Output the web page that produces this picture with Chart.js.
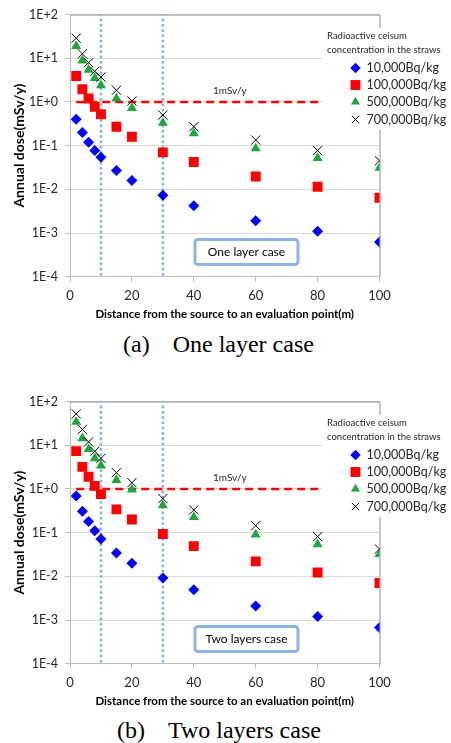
<!DOCTYPE html>
<html lang="en">
<head>
<meta charset="UTF-8">
<title>Annual dose vs distance</title>
<script src="https://cdn.jsdelivr.net/npm/chart.js"></script>
<style>
  body { margin: 0; background: #fff; width: 451px; height: 743px; position: relative; overflow: hidden; }
  .panel { position: absolute; left: 0; width: 451px; height: 330px; }
  canvas { display: block; }
  .caption { position: absolute; font-family: 'Liberation Serif', 'Times New Roman', serif; font-size: 24px; color: #000; white-space: nowrap; line-height: 1; }
  .caption .tag { margin-right: 23px; }
</style>
</head>
<body>
<div class="panel" style="top:0"><canvas id="chartA" width="451" height="330"></canvas></div>
<div class="caption" style="left:123px; top:332px"><span class="tag">(a)</span>One layer case</div>
<div class="panel" style="top:387px"><canvas id="chartB" width="451" height="330"></canvas></div>
<div class="caption" style="left:117px; top:718px"><span class="tag">(b)</span>Two layers case</div>

<script>
  // distances of evaluation points (m)
  const distances = [2, 4, 6, 8, 10, 15, 20, 30, 40, 60, 80, 100];
  const seriesLabels = ['10,000Bq/kg', '100,000Bq/kg', '500,000Bq/kg', '700,000Bq/kg'];

  // one layer case, annual dose (mSv/y)
  const oneLayer10k  = [0.40, 0.20, 0.12, 0.077, 0.054, 0.027, 0.016, 0.0073, 0.0042, 0.0019, 0.0011, 0.00062];
  const oneLayer100k = [3.9, 1.95, 1.2, 0.77, 0.52, 0.27, 0.16, 0.070, 0.042, 0.0196, 0.0114, 0.0064];
  const oneLayer500k = [19, 8.8, 5.4, 3.5, 2.4, 1.2, 0.72, 0.33, 0.19, 0.086, 0.052, 0.031];
  const oneLayer700k = [28.7, 12.6, 7.9, 5.0, 3.7, 1.85, 1.05, 0.50, 0.27, 0.134, 0.077, 0.045];

  // two layers case
  const twoLayer10k  = [0.69, 0.31, 0.18, 0.11, 0.071, 0.034, 0.020, 0.0091, 0.0049, 0.0021, 0.0012, 0.00067];
  const twoLayer100k = [7.3, 3.2, 1.9, 1.17, 0.76, 0.34, 0.20, 0.093, 0.049, 0.022, 0.0122, 0.0070];
  const twoLayer500k = [34, 14.3, 8.1, 5.0, 3.4, 1.6, 0.97, 0.42, 0.225, 0.09, 0.054, 0.032];
  const twoLayer700k = [52, 22.9, 11.9, 7.3, 5.0, 2.35, 1.39, 0.60, 0.33, 0.144, 0.081, 0.042];

  const yTicks = [1e-4, 1e-3, 1e-2, 1e-1, 1, 10, 100];
  const xTicks = [0, 20, 40, 60, 80, 100];
  const guideDistances = [10, 30];
  const limitDose = 1;
  const limitLabel = '1mSv/y';
  const legendTitle = ['Radioactive ceisum', 'concentration in the straws'];

  const markers = [
    { style: 'rectRot', color: '#0000ff', radius: 5.5 },
    { style: 'rect', color: '#ff0000', radius: 7 },
    { style: 'triangle', color: '#1ea83c', radius: 5.8 },
    { style: 'crossRot', color: '#000000', radius: 6.5 }
  ];

  const FONT = "Lato, 'Open Sans', sans-serif";
  Chart.defaults.font.family = FONT;
  Chart.defaults.color = '#262626';

  function sciLabel(v) {
    const e = Math.round(Math.log10(v));
    return '1E' + (e < 0 ? '-' : '+') + Math.abs(e);
  }

  function drawMarker(ctx, m, x, y, r) {
    ctx.save();
    ctx.fillStyle = m.color;
    ctx.strokeStyle = m.color;
    ctx.lineWidth = 1;
    ctx.beginPath();
    if (m.style === 'rectRot') {
      ctx.moveTo(x, y - r); ctx.lineTo(x + r, y); ctx.lineTo(x, y + r); ctx.lineTo(x - r, y);
      ctx.closePath(); ctx.fill();
    } else if (m.style === 'rect') {
      const s = r * Math.SQRT1_2;
      ctx.rect(x - s, y - s, 2 * s, 2 * s); ctx.fill();
    } else if (m.style === 'triangle') {
      ctx.moveTo(x, y - r); ctx.lineTo(x + r * 0.866, y + r / 2); ctx.lineTo(x - r * 0.866, y + r / 2);
      ctx.closePath(); ctx.fill();
    } else {
      const s = r * Math.SQRT1_2;
      ctx.moveTo(x - s, y - s); ctx.lineTo(x + s, y + s);
      ctx.moveTo(x + s, y - s); ctx.lineTo(x - s, y + s);
      ctx.stroke();
    }
    ctx.restore();
  }

  function makeChart(id, values, caseText) {
    const datasets = values.map((arr, i) => ({
      label: seriesLabels[i],
      data: distances.map((d, j) => ({ x: d, y: arr[j] })),
      pointStyle: markers[i].style,
      pointRadius: markers[i].radius,
      pointBackgroundColor: markers[i].color,
      pointBorderColor: markers[i].color,
      pointBorderWidth: i === 3 ? 1 : 0,
      showLine: false,
      order: 4 - i
    }));

    guideDistances.forEach(d => datasets.push({
      label: 'guide',
      data: [{ x: d, y: yTicks[yTicks.length - 1] }, { x: d, y: yTicks[0] }],
      showLine: true,
      borderColor: '#8db4e2',
      borderWidth: 3,
      borderDash: [0.1, 5.2],
      borderCapStyle: 'round',
      pointRadius: 0,
      order: 10
    }));

    datasets.push({
      label: 'limit',
      data: [{ x: distances[0], y: limitDose }, { x: xTicks[xTicks.length - 1], y: limitDose }],
      showLine: true,
      borderColor: '#ff0000',
      borderWidth: 2.5,
      borderDash: [8, 5],
      pointRadius: 0,
      order: 9
    });

    const decor = {
      id: 'decor',
      beforeDatasetsDraw(chart) {
        const { ctx, chartArea: a } = chart;
        ctx.save();
        ctx.strokeStyle = '#8c8c8c';
        ctx.lineWidth = 1;
        ctx.beginPath();
        ctx.moveTo(a.left, a.top + 0.5);
        ctx.lineTo(a.right + 0.5, a.top + 0.5);
        ctx.lineTo(a.right + 0.5, a.bottom);
        ctx.stroke();
        ctx.restore();
      },
      afterDraw(chart) {
        const { ctx } = chart;
        const ys = chart.scales.y;
        ctx.save();

        // 1mSv/y label
        ctx.font = '10px ' + FONT;
        ctx.fillStyle = '#262626';
        ctx.textBaseline = 'middle';
        ctx.textAlign = 'left';
        ctx.fillText(limitLabel, 213, ys.getPixelForValue(limitDose) - 11);

        // case box
        ctx.fillStyle = '#fff';
        ctx.strokeStyle = '#8db3e2';
        ctx.lineWidth = 3;
        ctx.beginPath();
        ctx.roundRect(195, 239.5, 103, 25, 3);
        ctx.fill();
        ctx.stroke();
        ctx.fillStyle = '#000';
        ctx.font = '12px ' + FONT;
        ctx.textAlign = 'center';
        ctx.fillText(caseText, 246.5, 252);

        // legend
        ctx.fillStyle = '#fff';
        ctx.fillRect(322, 28, 129, 102);
        ctx.fillStyle = '#262626';
        ctx.textAlign = 'left';
        ctx.font = '9.5px ' + FONT;
        ctx.fillText(legendTitle[0], 327, 35.5);
        ctx.fillText(legendTitle[1], 327, 49.5);
        ctx.font = '12.5px ' + FONT;
        const rowY = [68, 85, 102, 119.5];
        markers.forEach((m, i) => {
          drawMarker(ctx, m, 355.5, rowY[i], i === 1 ? 7 : 5.2);
          ctx.fillStyle = '#262626';
          ctx.fillText(seriesLabels[i], 366.5, rowY[i]);
        });
        ctx.restore();
      }
    };

    return new Chart(document.getElementById(id), {
      type: 'scatter',
      data: { datasets },
      options: {
        responsive: false,
        animation: false,
        events: [],
        layout: { padding: { top: 13.3, right: 71.5, left: 0, bottom: 0 } },
        plugins: { legend: { display: false }, tooltip: { enabled: false } },
        scales: {
          x: {
            type: 'linear',
            min: 0,
            max: 100,
            afterBuildTicks: s => { s.ticks = xTicks.map(v => ({ value: v })); },
            afterFit: s => { s.height = 53.3; },
            grid: { drawOnChartArea: false, tickLength: 5, tickColor: '#bfbfbf' },
            border: { color: '#bfbfbf' },
            ticks: { padding: 6.5, font: { size: 13 }, color: '#262626', maxRotation: 0 },
            title: {
              display: true,
              text: 'Distance from the source to an evaluation point(m)',
              font: { size: 11.5, weight: 'bold' },
              color: '#000',
              padding: { top: 0, bottom: 9 }
            }
          },
          y: {
            type: 'logarithmic',
            min: 1e-4,
            max: 100,
            afterBuildTicks: s => { s.ticks = yTicks.map(v => ({ value: v })); },
            afterFit: s => { s.width = 70; },
            grid: { color: '#d9d9d9', tickLength: 5, tickColor: '#bfbfbf' },
            border: { color: '#bfbfbf' },
            ticks: { padding: 7, font: { size: 12.5 }, color: '#262626', callback: v => sciLabel(v) },
            title: {
              display: true,
              text: 'Annual dose(mSv/y)',
              font: { size: 14, weight: 'bold' },
              color: '#000',
              padding: { top: 11, bottom: 0 }
            }
          }
        }
      },
      plugins: [decor]
    });
  }

  makeChart('chartA', [oneLayer10k, oneLayer100k, oneLayer500k, oneLayer700k], 'One layer case');
  makeChart('chartB', [twoLayer10k, twoLayer100k, twoLayer500k, twoLayer700k], 'Two layers case');
</script>
</body>
</html>
